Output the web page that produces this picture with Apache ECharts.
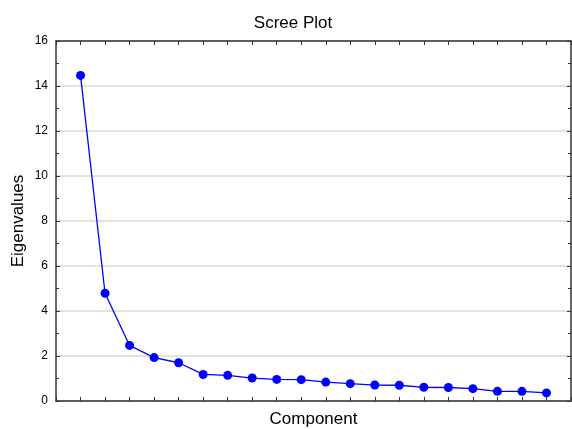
<!DOCTYPE html>
<html>
<head>
<meta charset="utf-8">
<script src="https://cdn.jsdelivr.net/npm/echarts@6/dist/echarts.min.js"></script>
<style>
  html, body { margin: 0; padding: 0; background: #fff; }
  #chart { width: 572px; height: 429px; }
</style>
</head>
<body>
<div id="chart"></div>
<script>
var components = [1, 2, 3, 4, 5, 6, 7, 8, 9, 10, 11, 12, 13, 14, 15, 16, 17, 18, 19, 20];
var eigenvalues = [14.47, 4.79, 2.47, 1.93, 1.70, 1.18, 1.14, 1.02, 0.96, 0.95,
                   0.84, 0.77, 0.71, 0.70, 0.61, 0.60, 0.55, 0.43, 0.43, 0.36];
var yTicks = [0, 2, 4, 6, 8, 10, 12, 14, 16];

var points = components.map(function (c, i) { return [c, eigenvalues[i]]; });
var font = 'Liberation Sans, Arial, sans-serif';
var axisColor = '#333';

var chart = echarts.init(document.getElementById('chart'));
chart.setOption({
  animation: false,
  title: {
    text: 'Scree Plot',
    left: 288,
    top: 10,
    textAlign: 'center',
    textStyle: { fontFamily: font, fontSize: 17, fontWeight: 'normal', color: '#000' }
  },
  grid: { left: 56, top: 41, right: 1, bottom: 28, outerBoundsMode: 'none', containLabel: false },
  xAxis: [{
    type: 'value',
    min: 0,
    max: 21,
    interval: 1,
    name: 'Component',
    nameLocation: 'middle',
    nameGap: 10,
    nameTextStyle: { fontFamily: font, fontSize: 17, color: '#000' },
    axisLine: { onZero: false, lineStyle: { color: axisColor, width: 1.5 } },
    axisTick: { inside: true, length: 4, lineStyle: { color: axisColor } },
    axisLabel: { show: false },
    splitLine: { show: false }
  }, {
    type: 'value',
    position: 'top',
    min: 0,
    max: 21,
    interval: 1,
    axisLine: { show: true, onZero: false, lineStyle: { color: axisColor, width: 1.5 } },
    axisTick: { show: true, inside: true, length: 4, lineStyle: { color: axisColor } },
    axisLabel: { show: false },
    splitLine: { show: false }
  }],
  yAxis: [{
    type: 'value',
    min: yTicks[0],
    max: yTicks[yTicks.length - 1],
    interval: 2,
    name: 'Eigenvalues',
    nameLocation: 'middle',
    nameGap: 29,
    nameMoveOverlap: false,
    nameTextStyle: { fontFamily: font, fontSize: 17, color: '#000' },
    axisLine: { show: true, onZero: false, lineStyle: { color: axisColor, width: 1.5 } },
    axisTick: { inside: true, length: 4, lineStyle: { color: axisColor } },
    minorTick: { show: true, splitNumber: 2, length: 3, lineStyle: { color: axisColor } },
    axisLabel: { fontFamily: font, fontSize: 12, color: '#000', margin: 8 },
    splitLine: { show: true, lineStyle: { color: '#d9d9d9', width: 1.5 } }
  }, {
    type: 'value',
    position: 'right',
    min: 0,
    max: 16,
    interval: 2,
    axisLine: { show: true, onZero: false, lineStyle: { color: axisColor, width: 1.5 } },
    axisTick: { show: true, inside: true, length: 4, lineStyle: { color: axisColor } },
    minorTick: { show: true, splitNumber: 2, length: 3, lineStyle: { color: axisColor } },
    axisLabel: { show: false },
    splitLine: { show: false }
  }],
  series: [{
    type: 'line',
    data: points,
    symbol: 'circle',
    symbolSize: 9,
    lineStyle: { color: '#0000ff', width: 1.3 },
    itemStyle: { color: '#0000ff' }
  }]
});
</script>
</body>
</html>
